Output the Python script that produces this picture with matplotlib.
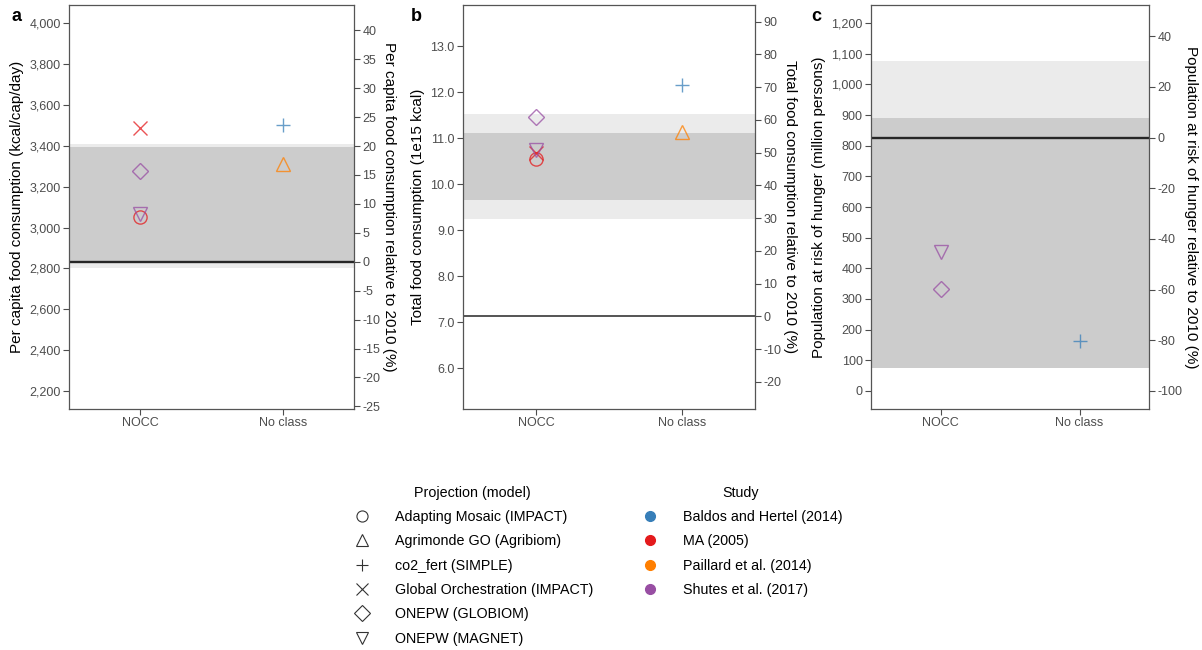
import numpy as np
import matplotlib.pyplot as plt
from matplotlib.lines import Line2D
from matplotlib.ticker import FuncFormatter

plt.rcParams['font.family'] = ['Liberation Sans', 'DejaVu Sans']
plt.rcParams['axes.unicode_minus'] = False

categories = ['NOCC', 'No class']

models = ['Adapting Mosaic (IMPACT)', 'Agrimonde GO (Agribiom)', 'co2_fert (SIMPLE)',
          'Global Orchestration (IMPACT)', 'ONEPW (GLOBIOM)', 'ONEPW (MAGNET)']
model_markers = ['o', '^', '+', 'x', 'D', 'v']

studies = ['Baldos and Hertel (2014)', 'MA (2005)', 'Paillard et al. (2014)', 'Shutes et al. (2017)']
study_colors = ['#377EB8', '#E41A1C', '#FF7F00', '#984EA3']

# one entry per projection point
pt_model = ['Adapting Mosaic (IMPACT)', 'Global Orchestration (IMPACT)', 'ONEPW (GLOBIOM)',
            'ONEPW (MAGNET)', 'co2_fert (SIMPLE)', 'Agrimonde GO (Agribiom)']
pt_study = ['MA (2005)', 'MA (2005)', 'Shutes et al. (2017)',
            'Shutes et al. (2017)', 'Baldos and Hertel (2014)', 'Paillard et al. (2014)']
pt_cat = ['NOCC', 'NOCC', 'NOCC', 'NOCC', 'No class', 'No class']

percap_vals = [3053, 3489, 3279, 3065, 3502, 3310]
total_vals = [10.55, 10.68, 11.47, 10.74, 12.15, 11.13]
hunger_vals = [None, None, 334, 453, 164, None]

# 2010 reference values and shaded ranges (light, dark)
baselines = [2833, 7.124, 826.6]
light_bands = [(2804, 3409), (9.244, 11.52), (74, 1077)]
dark_bands = [(2833, 3396), (9.648, 11.12), (74, 890)]

ylims = [(2112, 4090), (5.11, 13.9), (-58.7, 1258.7)]
left_ticks = [np.arange(2200, 4001, 200), np.arange(6, 13.1, 1), np.arange(0, 1201, 100)]
right_ticks = [np.arange(-25, 41, 5), np.arange(-20, 91, 10), np.arange(-100, 41, 20)]
left_fmt = ['{:,.0f}', '{:.1f}', '{:,.0f}']
left_labels = ['Per capita food consumption (kcal/cap/day)', 'Total food consumption (1e15 kcal)',
               'Population at risk of hunger (million persons)']
right_labels = ['Per capita food consumption relative to 2010 (%)',
                'Total food consumption relative to 2010 (%)',
                'Population at risk of hunger relative to 2010 (%)']
panel_tags = ['a', 'b', 'c']
all_vals = [percap_vals, total_vals, hunger_vals]

W, H = 1202, 650
fig = plt.figure(figsize=(W / 100, H / 100), dpi=100)
boxes = [(69, 354), (463, 755), (871, 1149)]
tag_x = [11, 411, 811]
base_lw = [1.7, 1.1, 1.7]
top_px, bot_px = 5, 409

tick_col = '#4D4D4D'
for i in range(3):
    x0, x1 = boxes[i]
    ax = fig.add_axes([x0 / W, (H - bot_px) / H, (x1 - x0) / W, (bot_px - top_px) / H])
    ax.set_xlim(0.5, 2.5)
    ax.set_ylim(*ylims[i])
    ax.axhspan(*light_bands[i], color='#EBEBEB', lw=0, zorder=0)
    ax.axhspan(*dark_bands[i], color='#CCCCCC', lw=0, zorder=0.5)
    ax.axhline(baselines[i], color='#262626', lw=base_lw[i], zorder=1)

    for m, s, c, v in zip(pt_model, pt_study, pt_cat, all_vals[i]):
        if v is None:
            continue
        mk = model_markers[models.index(m)]
        col = study_colors[studies.index(s)]
        ms = 8 if mk == 'D' else 9.5
        ax.plot(categories.index(c) + 1, v, marker=mk, ms=ms, mfc='none', mec=col,
                mew=1.0, alpha=0.75, ls='none', zorder=3)

    ax.set_xticks([1, 2])
    ax.set_xticklabels(categories)
    ax.set_yticks(left_ticks[i])
    ax.yaxis.set_major_formatter(FuncFormatter(lambda v, p, f=left_fmt[i]: f.format(v)))
    ax.set_ylabel(left_labels[i], fontsize=11, labelpad=4)
    ax.tick_params(colors=tick_col, labelsize=9, length=4, width=0.8, pad=2,
                   labelcolor=tick_col)
    for sp in ax.spines.values():
        sp.set_color('#555555')
        sp.set_linewidth(0.9)

    ax2 = ax.twinx()
    b = baselines[i]
    ax2.set_ylim((ylims[i][0] / b - 1) * 100, (ylims[i][1] / b - 1) * 100)
    ax2.set_yticks(right_ticks[i])
    ax2.set_ylabel(right_labels[i], fontsize=11, rotation=270, va='bottom', labelpad=1)
    ax2.tick_params(colors=tick_col, labelsize=9, length=4, width=0.8, pad=2,
                    labelcolor=tick_col)
    for sp in ax2.spines.values():
        sp.set_visible(False)

    fig.text(tag_x[i] / W, 1 - 21 / H, panel_tags[i], fontsize=13, fontweight='bold')

# legends
model_handles = [Line2D([], [], marker=mk, ls='none', mfc='none', mec='#333333', ms=8, mew=0.8)
                 for mk in model_markers]
fig.legend(model_handles, models, title='Projection (model)', loc='upper left',
           bbox_to_anchor=(338 / W, 1 - 473 / H), frameon=False, fontsize=10.3,
           title_fontsize=10.3, labelspacing=0.72, handletextpad=1.6, handlelength=1.5)
study_handles = [Line2D([], [], marker='o', ls='none', color=c, ms=7) for c in study_colors]
fig.legend(study_handles, studies, title='Study', loc='upper left',
           bbox_to_anchor=(626 / W, 1 - 473 / H), frameon=False, fontsize=10.3,
           title_fontsize=10.3, labelspacing=0.72, handletextpad=1.6, handlelength=1.5)

fig.savefig('out.png', dpi=100)
